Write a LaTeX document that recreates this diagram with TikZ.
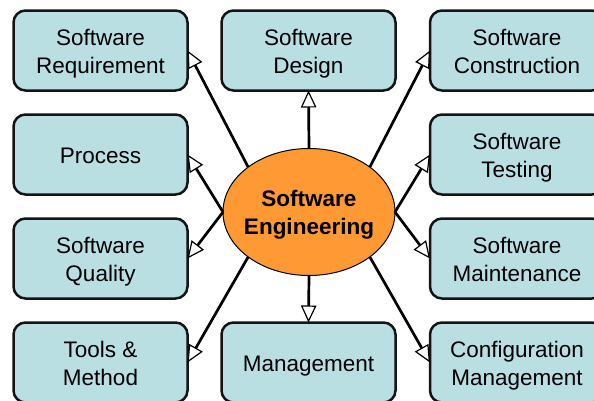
\documentclass[tikz,border=0pt]{standalone}
\usepackage{fontspec}
\setmainfont{Liberation Sans}
\usetikzlibrary{shapes.geometric,arrows.meta}
\definecolor{boxfill}{HTML}{B9DFE3}
\definecolor{ovalfill}{HTML}{FF9933}
\definecolor{edgecol}{HTML}{141414}
\newcommand\lnTop{\rule{0pt}{22pt}}
\newcommand\lnBot{\rule[-5pt]{0pt}{0pt}}
\tikzset{
  lines/.style={align=center, font=\fontsize{22.5}{28}\selectfont},
  topic/.style={lines, draw=edgecol, line width=2.5pt, fill=boxfill, rounded corners=12pt,
    minimum width=174pt, minimum height=80pt, inner sep=0pt, outer sep=0pt},
  hub/.style={lines, ellipse, draw=black, line width=1pt, fill=ovalfill, minimum width=172pt,
    minimum height=127pt, inner xsep=-12pt, inner ysep=0pt, outer sep=0pt},
  link/.style={draw=black, line width=2.7pt,
    -{Triangle[fill=white, length=17pt, width=15.5pt, line width=1.2pt]}}
}
\begin{document}
\begin{tikzpicture}[x=1pt, y=-1pt]
\useasboundingbox (0,0) rectangle (594,400);
\node[topic] (req) at (100.5,50.5) {\lnTop Software\\Requirement\lnBot};
\node[topic] (des) at (308.5,50.5) {\lnTop Software\\Design\lnBot};
\node[topic] (con) at (517,50.5) {\lnTop Software\\Construction\lnBot};
\node[topic] (pro) at (100.5,154.5) {\lnTop Process\lnBot};
\node[topic] (tst) at (517,154.5) {\lnTop Software\\Testing\lnBot};
\node[topic] (qua) at (100.5,258.5) {\lnTop Software\\Quality\lnBot};
\node[topic] (mnt) at (517,258.5) {\lnTop Software\\Maintenance\lnBot};
\node[topic] (too) at (100.5,362.5) {\lnTop Tools \&\\Method\lnBot};
\node[topic] (man) at (308.5,362.5) {\lnTop Management\lnBot};
\node[topic] (cfg) at (517,362.5) {\lnTop Configuration\\Management\lnBot};
\node[hub] (se) at (309,212) {\bfseries\lnTop Software\\\bfseries Engineering\lnBot};
\draw[link] (se.north west) -- (req.east);
\draw[link] (se.north) -- (des.south);
\draw[link] (se.north east) -- (con.west);
\draw[link] (se.west) -- (pro.east);
\draw[link] (se.east) -- (tst.west);
\draw[link] (se.west) -- (qua.east);
\draw[link] (se.east) -- (mnt.west);
\draw[link] (se.south west) -- (too.east);
\draw[link] (se.south) -- (man.north);
\draw[link] (se.south east) -- (cfg.west);
\end{tikzpicture}
\end{document}
